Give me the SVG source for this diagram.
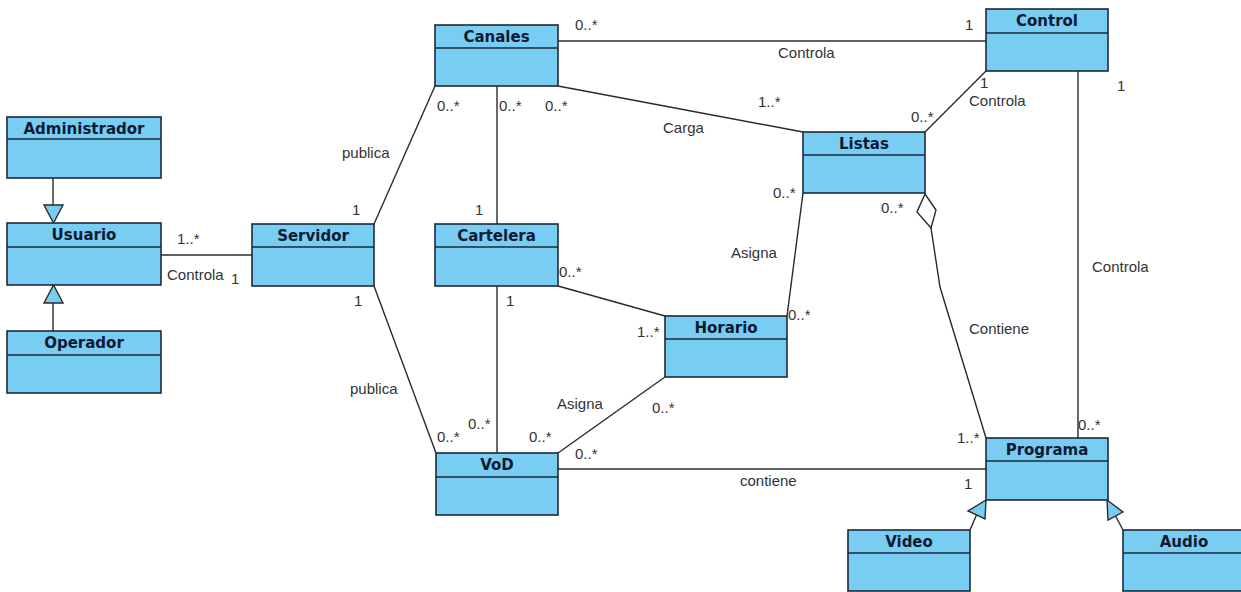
<svg xmlns="http://www.w3.org/2000/svg" width="1241" height="592" viewBox="0 0 1241 592">
<style>
.box{fill:#79CCF2;stroke:#1C2A3A;stroke-width:1.6}
.div{stroke:#1C2A3A;stroke-width:1.6}
.hd{font-family:"DejaVu Sans",Verdana,sans-serif;font-weight:bold;font-size:15px;fill:#0B1A33;text-anchor:middle}
.ln{fill:none;stroke:#2A2A2A;stroke-width:1.4}
.tri{fill:#79CCF2;stroke:#2A2A2A;stroke-width:1.4;stroke-linejoin:miter}
.lb{font-family:"Liberation Sans",Arial,sans-serif;font-size:15px;fill:#333}
</style>
<rect width="1241" height="592" fill="#fff"/>
<g id="connectors">
  <!-- generalizations -->
  <line class="ln" x1="53" y1="178" x2="53" y2="205"/>
  <polygon class="tri" points="44,205 63,205 53.5,223"/>
  <line class="ln" x1="53" y1="331" x2="53" y2="303"/>
  <polygon class="tri" points="44,303 63,303 53.5,285"/>
  <line class="ln" x1="970" y1="530" x2="976.5" y2="515"/>
  <polygon class="tri" points="986,500 968,511 985,519"/>
  <line class="ln" x1="1123" y1="530" x2="1115.5" y2="516"/>
  <polygon class="tri" points="1107,500 1123,512 1108,520"/>
  <!-- associations -->
  <line class="ln" x1="161" y1="255" x2="252" y2="255"/>
  <line class="ln" x1="374" y1="224" x2="435" y2="86"/>
  <line class="ln" x1="374" y1="286" x2="436" y2="453"/>
  <line class="ln" x1="497" y1="86" x2="497" y2="224"/>
  <line class="ln" x1="497" y1="286" x2="497" y2="453"/>
  <line class="ln" x1="558" y1="286" x2="665" y2="316"/>
  <line class="ln" x1="665" y1="377" x2="558" y2="453"/>
  <line class="ln" x1="803" y1="193" x2="787" y2="316"/>
  <line class="ln" x1="558" y1="86" x2="803" y2="132"/>
  <line class="ln" x1="986" y1="71" x2="925" y2="132"/>
  <line class="ln" x1="558" y1="41" x2="986" y2="41"/>
  <line class="ln" x1="1078" y1="71" x2="1078" y2="438"/>
  <line class="ln" x1="558" y1="469" x2="986" y2="469"/>
  <polyline class="ln" points="931,228 940,287 986,438"/>
  <polygon points="925,194 917,212 931,228 936,210" fill="#fff" stroke="#2A2A2A" stroke-width="1.4"/>
  <!-- labels -->
  <text class="lb" x="177" y="244">1..*</text>
  <text class="lb" x="167" y="280">Controla</text>
  <text class="lb" x="231" y="284">1</text>
  <text class="lb" x="437" y="111">0..*</text>
  <text class="lb" x="342" y="158">publica</text>
  <text class="lb" x="352" y="215">1</text>
  <text class="lb" x="499" y="111">0..*</text>
  <text class="lb" x="475" y="215">1</text>
  <text class="lb" x="545" y="111">0..*</text>
  <text class="lb" x="758" y="107">1..*</text>
  <text class="lb" x="663" y="133">Carga</text>
  <text class="lb" x="575" y="30">0..*</text>
  <text class="lb" x="778" y="58">Controla</text>
  <text class="lb" x="965" y="30">1</text>
  <text class="lb" x="980" y="88">1</text>
  <text class="lb" x="969" y="106">Controla</text>
  <text class="lb" x="911" y="122">0..*</text>
  <text class="lb" x="1117" y="91">1</text>
  <text class="lb" x="1092" y="272">Controla</text>
  <text class="lb" x="1078" y="430">0..*</text>
  <text class="lb" x="773" y="198">0..*</text>
  <text class="lb" x="731" y="258">Asigna</text>
  <text class="lb" x="788" y="320">0..*</text>
  <text class="lb" x="881" y="213">0..*</text>
  <text class="lb" x="969" y="334">Contiene</text>
  <text class="lb" x="957" y="443">1..*</text>
  <text class="lb" x="559" y="277">0..*</text>
  <text class="lb" x="637" y="337">1..*</text>
  <text class="lb" x="354" y="306">1</text>
  <text class="lb" x="506" y="306">1</text>
  <text class="lb" x="350" y="394">publica</text>
  <text class="lb" x="557" y="409">Asigna</text>
  <text class="lb" x="652" y="413">0..*</text>
  <text class="lb" x="468" y="429">0..*</text>
  <text class="lb" x="437" y="442">0..*</text>
  <text class="lb" x="529" y="442">0..*</text>
  <text class="lb" x="575" y="459">0..*</text>
  <text class="lb" x="740" y="486">contiene</text>
  <text class="lb" x="964" y="489">1</text>
</g>
<g id="Administrador"><rect class="box" x="7" y="117" width="154" height="61"/><line class="div" x1="7" y1="139" x2="161" y2="139"/><text class="hd" x="84" y="134">Administrador</text></g>
<g id="Usuario"><rect class="box" x="7" y="223" width="154" height="62"/><line class="div" x1="7" y1="247" x2="161" y2="247"/><text class="hd" x="84" y="240">Usuario</text></g>
<g id="Operador"><rect class="box" x="7" y="331" width="154" height="62"/><line class="div" x1="7" y1="355" x2="161" y2="355"/><text class="hd" x="84" y="348">Operador</text></g>
<g id="Servidor"><rect class="box" x="252" y="224" width="122" height="62"/><line class="div" x1="252" y1="247" x2="374" y2="247"/><text class="hd" x="313" y="241">Servidor</text></g>
<g id="Canales"><rect class="box" x="435" y="25" width="123" height="61"/><line class="div" x1="435" y1="48" x2="558" y2="48"/><text class="hd" x="496.5" y="42">Canales</text></g>
<g id="Cartelera"><rect class="box" x="435" y="224" width="123" height="62"/><line class="div" x1="435" y1="247" x2="558" y2="247"/><text class="hd" x="496.5" y="241">Cartelera</text></g>
<g id="Control"><rect class="box" x="986" y="9" width="122" height="62"/><line class="div" x1="986" y1="33" x2="1108" y2="33"/><text class="hd" x="1047" y="26">Control</text></g>
<g id="Listas"><rect class="box" x="803" y="132" width="122" height="61"/><line class="div" x1="803" y1="155" x2="925" y2="155"/><text class="hd" x="864" y="149">Listas</text></g>
<g id="Horario"><rect class="box" x="665" y="316" width="122" height="61"/><line class="div" x1="665" y1="339" x2="787" y2="339"/><text class="hd" x="726" y="333">Horario</text></g>
<g id="VoD"><rect class="box" x="436" y="453" width="122" height="62"/><line class="div" x1="436" y1="477" x2="558" y2="477"/><text class="hd" x="497" y="470">VoD</text></g>
<g id="Programa"><rect class="box" x="986" y="438" width="122" height="62"/><line class="div" x1="986" y1="461" x2="1108" y2="461"/><text class="hd" x="1047" y="455">Programa</text></g>
<g id="Video"><rect class="box" x="848" y="530" width="122" height="61"/><line class="div" x1="848" y1="553" x2="970" y2="553"/><text class="hd" x="909" y="547">Video</text></g>
<g id="Audio"><rect class="box" x="1123" y="530" width="122" height="61"/><line class="div" x1="1123" y1="553" x2="1245" y2="553"/><text class="hd" x="1184" y="547">Audio</text></g>
</svg>
